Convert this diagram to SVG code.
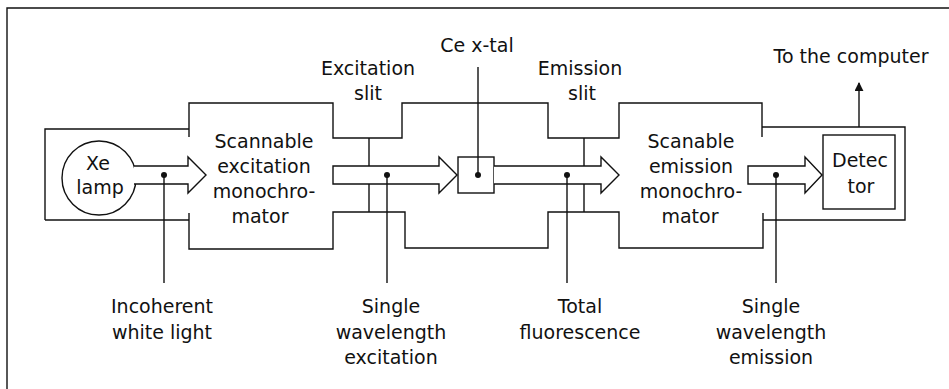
<svg xmlns="http://www.w3.org/2000/svg" width="949" height="389" viewBox="0 0 949 389">
<defs>
<style>
.ln{fill:none;stroke:#111;stroke-width:1.4}
.ar{fill:#fff;stroke:#111;stroke-width:1.4;stroke-linejoin:miter}
.t{font-family:"DejaVu Sans",sans-serif;font-size:19px;fill:#111;text-anchor:middle}
.dot{fill:#111}
</style>
<marker id="ah" viewBox="0 0 10 10" refX="9" refY="5" markerWidth="9" markerHeight="9" markerUnits="userSpaceOnUse" orient="auto">
<path d="M0,0 L10,5 L0,10 Z" fill="#111"/>
</marker>
</defs>
<rect width="949" height="389" fill="#fff"/>
<g id="frame">
<path class="ln" d="M7,389 V8 H949"/>
</g>
<g id="housing">
<path class="ln" d="M45,220 V129 H189"/>
<path class="ln" d="M189,137 V103 H333 V138 H402 V103 H548 V138 H619 V103 H762 V137"/>
<path class="ln" d="M762,127 H905 V220 H763"/>
<path class="ln" d="M763,213 V248 H619 V212 H548 V248 H405 V212 H333 V249 H189 V213"/>
<path class="ln" d="M45,220 H189"/>
</g>
<g id="excitation-slit">
<path class="ln" d="M369,138 V166 M369,184 V212"/>
<text class="t" x="368" y="75">Excitation</text>
<text class="t" x="368" y="100">slit</text>
</g>
<g id="emission-slit">
<path class="ln" d="M584,138 V166 M584,184 V212"/>
<text class="t" x="580" y="75">Emission</text>
<text class="t" x="582" y="100">slit</text>
</g>
<g id="xe-lamp">
<circle class="ln" cx="99" cy="178" r="37"/>
<text class="t" x="98" y="170">Xe</text>
<text class="t" x="100" y="194">lamp</text>
</g>
<g id="excitation-monochromator">
<text class="t" x="264" y="148">Scannable</text>
<text class="t" x="264" y="173">excitation</text>
<text class="t" x="264" y="198">monochro-</text>
<text class="t" x="260" y="223">mator</text>
</g>
<g id="crystal">
<rect class="ln" x="458" y="157" width="36" height="36"/>
<text class="t" x="477" y="52">Ce x-tal</text>
</g>
<g id="emission-monochromator">
<text class="t" x="691" y="148">Scanable</text>
<text class="t" x="691" y="173">emission</text>
<text class="t" x="691" y="198">monochro-</text>
<text class="t" x="690" y="223">mator</text>
</g>
<g id="detector">
<rect class="ln" x="823" y="135" width="72" height="74"/>
<text class="t" x="860" y="167">Detec</text>
<text class="t" x="861" y="193">tor</text>
</g>
<g id="computer">
<text class="t" x="851" y="63">To the computer</text>
</g>
<g id="connectors">
<path class="ar" d="M134,166 H188 V157 L206,175 L188,193 V184 H134"/>
<path class="ar" d="M333,166 H439 V157 L457,175 L439,193 V184 H333 Z"/>
<path class="ar" d="M494,166 H601 V157 L619,175 L601,193 V184 H494"/>
<path class="ar" d="M748,166 H805 V157 L822,175 L805,193 V184 H748 Z"/>
<path class="ln" d="M859,127 V83" marker-end="url(#ah)"/>
<path class="ln" d="M164,175 V283"/>
<circle class="dot" cx="164" cy="175" r="3"/>
<path class="ln" d="M387,175 V283"/>
<circle class="dot" cx="387" cy="175" r="3"/>
<path class="ln" d="M478,175 V67"/>
<circle class="dot" cx="478" cy="175" r="3"/>
<path class="ln" d="M567,175 V283"/>
<circle class="dot" cx="567" cy="175" r="3"/>
<path class="ln" d="M776,175 V283"/>
<circle class="dot" cx="776" cy="175" r="3"/>
</g>
<g id="labels">
<text class="t" x="162" y="313">Incoherent</text>
<text class="t" x="162" y="339">white light</text>
<text class="t" x="391" y="313">Single</text>
<text class="t" x="391" y="339">wavelength</text>
<text class="t" x="391" y="364">excitation</text>
<text class="t" x="580" y="313">Total</text>
<text class="t" x="580" y="339">fluorescence</text>
<text class="t" x="771" y="313">Single</text>
<text class="t" x="771" y="339">wavelength</text>
<text class="t" x="771" y="364">emission</text>
</g>
</svg>
